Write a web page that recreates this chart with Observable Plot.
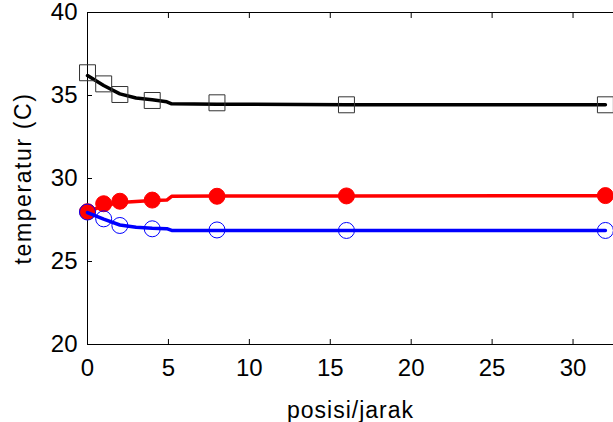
<!DOCTYPE html>
<html><head><meta charset="utf-8">
<script src="https://cdn.jsdelivr.net/npm/d3@7"></script>
<script src="https://cdn.jsdelivr.net/npm/@observablehq/plot@0.6"></script>
<style>
html,body{margin:0;padding:0;background:#fff;overflow:hidden;}
#chart{position:relative;width:613px;height:422px;overflow:hidden;}
#chart svg{display:block;margin-top:-10px;}
</style></head><body><div id="chart"></div>
<script>
// marker positions
const posX = [0, 1, 2, 4, 8, 16, 32];
const blackPts = [36.37, 35.7, 35.06, 34.7, 34.56, 34.44, 34.44];
const redPts   = [28.0, 28.48, 28.63, 28.7, 28.93, 28.95, 28.97];
const bluePts  = [27.98, 27.57, 27.17, 26.97, 26.9, 26.87, 26.87];
// continuous curves
const lineX     = [0, 1, 2, 3, 4, 4.9, 5.2, 8, 16, 32];
const blackLine = [36.2, 35.6, 35.1, 34.85, 34.74, 34.62, 34.5, 34.48, 34.45, 34.44];
const redLine   = [28.0, 28.35, 28.55, 28.62, 28.67, 28.7, 28.93, 28.94, 28.95, 28.96];
const blueLine  = [27.95, 27.55, 27.2, 27.06, 27.0, 26.98, 26.87, 26.87, 26.86, 26.86];
const xTicks = [0, 5, 10, 15, 20, 25, 30];
const yTicks = [20, 25, 30, 35, 40];

const pts = posX.map((x, i) => ({x, black: blackPts[i], red: redPts[i], blue: bluePts[i]}));
const lines = lineX.map((x, i) => ({x, black: blackLine[i], red: redLine[i], blue: blueLine[i]}));
const blank = () => "";
const font = "Liberation Sans, Arial, sans-serif";

const chart = Plot.plot({
  width: 613, height: 432,
  marginLeft: 87, marginRight: 0, marginTop: 22, marginBottom: 78,
  style: {fontFamily: font, fontSize: "23px", background: "#fff"},
  x: {domain: [0, 32.5]},
  y: {domain: [20, 40]},
  marks: [
    Plot.ruleX([0], {stroke: "#000"}),
    Plot.ruleY([20, 40], {stroke: "#000"}),
    Plot.axisX(xTicks, {anchor: "bottom", tickSize: 0, tickPadding: 14, fontSize: 24, label: "posisi/jarak", labelAnchor: "center", labelOffset: 73, labelArrow: "none"}),
    Plot.axisX(xTicks, {anchor: "bottom", tickSize: -5, tickFormat: blank, label: null}),
    Plot.axisX(xTicks, {anchor: "top", tickSize: -5, tickFormat: blank, label: null}),
    Plot.axisY(yTicks, {anchor: "left", tickSize: 0, tickPadding: 10, fontSize: 24, label: "temperatur (C)", labelAnchor: "center", labelOffset: 73, labelArrow: "none"}),
    Plot.axisY(yTicks, {anchor: "left", tickSize: -5, tickFormat: blank, label: null}),
    Plot.line(lines, {x: "x", y: "black", stroke: "#000", strokeWidth: 3.5}),
    Plot.dot(pts, {x: "x", y: "black", symbol: "square", r: 9, stroke: "#333", strokeWidth: 1, fill: "none"}),
    Plot.line(lines, {x: "x", y: "red", stroke: "#ff0000", strokeWidth: 3.5}),
    Plot.dot(pts, {x: "x", y: "red", r: 8, fill: "#ff0000", stroke: "#ff0000", strokeWidth: 1}),
    Plot.line(lines, {x: "x", y: "blue", stroke: "#0000ff", strokeWidth: 3.5}),
    Plot.dot(pts, {x: "x", y: "blue", r: 8, stroke: "#0000ff", strokeWidth: 1, fill: "none"})
  ]
});
d3.select(chart).selectAll('g[aria-label="x-axis label"] text').attr("font-size", 23).attr("letter-spacing", "1px");
d3.select(chart).selectAll('g[aria-label="y-axis label"] text').attr("font-size", 23).attr("letter-spacing", "1.6px");
document.getElementById("chart").appendChild(chart);
</script></body></html>
